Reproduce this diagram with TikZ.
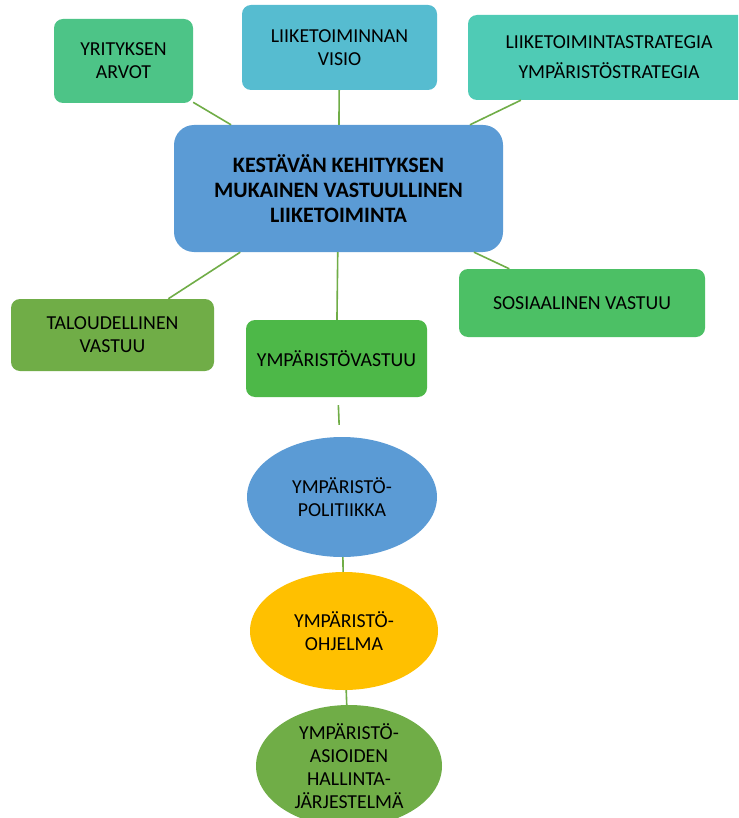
\documentclass[tikz,border=0pt]{standalone}
\usepackage{fontspec}
\setmainfont{Carlito}
\usetikzlibrary{shapes.geometric}
\definecolor{cArvot}{HTML}{4DC487}
\definecolor{cVisio}{HTML}{56BCD0}
\definecolor{cStrat}{HTML}{4FCBB5}
\definecolor{cMain}{HTML}{5B9BD5}
\definecolor{cTalous}{HTML}{70AD47}
\definecolor{cYmp}{HTML}{4DB848}
\definecolor{cSos}{HTML}{4CC065}
\definecolor{cYellow}{HTML}{FFC000}
\definecolor{cLine}{HTML}{70AD47}
\tikzset{
  box/.style={rectangle, rounded corners=9pt, inner sep=0pt, align=center,
    font=\fontsize{19.8}{23}\selectfont},
  oval/.style={ellipse, inner sep=0pt, align=center,
    font=\fontsize{19.8}{22.5}\selectfont},
  link/.style={draw=cLine, line width=1.6pt}
}
\begin{document}
\begin{tikzpicture}[x=1pt,y=-1pt]
\useasboundingbox (0,0) rectangle (738,818);
\clip (0,0) rectangle (738,818);
\fill[white] (0,0) rectangle (738,818);
\node[box, fill=cArvot, minimum width=139pt, minimum height=84pt] (arvot) at (123.5,61) {YRITYKSEN\\ARVOT};
\node[box, fill=cVisio, minimum width=195pt, minimum height=85pt] (visio) at (339.5,47.5) {LIIKETOIMINNAN\\VISIO};
\node[box, fill=cStrat, minimum width=282pt, minimum height=85pt, font=\fontsize{19.8}{30}\selectfont] (strat) at (609,57.5) {LIIKETOIMINTASTRATEGIA\\YMPÄRISTÖSTRATEGIA};
\node[box, fill=cMain, rounded corners=20pt, minimum width=329pt, minimum height=127pt, font=\fontsize{22}{25}\selectfont\bfseries] (main) at (338.5,188.5) {KESTÄVÄN KEHITYKSEN\\MUKAINEN VASTUULLINEN\\LIIKETOIMINTA};
\node[box, fill=cTalous, minimum width=203pt, minimum height=72pt] (talous) at (112.5,335) {TALOUDELLINEN\\VASTUU};
\node[box, fill=cYmp, minimum width=181pt, minimum height=77pt] (ymp) at (336.5,358.5) {YMPÄRISTÖVASTUU};
\node[box, fill=cSos, minimum width=246pt, minimum height=68pt] (sos) at (582,303) {SOSIAALINEN VASTUU};
\node[oval, fill=cMain, minimum width=190pt, minimum height=120pt] (pol) at (342,497) {YMPÄRISTÖ-\\POLITIIKKA};
\node[oval, fill=cYellow, minimum width=188pt, minimum height=118pt] (ohj) at (344,631) {YMPÄRISTÖ-\\OHJELMA};
\node[oval, fill=cTalous, minimum width=186pt, minimum height=122pt, font=\fontsize{19.8}{23}\selectfont] (hal) at (349,766) {YMPÄRISTÖ-\\ASIOIDEN\\HALLINTA-\\JÄRJESTELMÄ};
\draw[link] (arvot) -- (main);
\draw[link] (visio) -- (main);
\draw[link] (strat) -- (main);
\draw[link] (main) -- (talous);
\draw[link] (main) -- (ymp);
\draw[link] (main) -- (sos);
\draw[link, shorten <=8pt, shorten >=12pt] (ymp) -- (pol);
\draw[link] (pol) -- (ohj);
\draw[link] (ohj) -- (hal);
\end{tikzpicture}
\end{document}
